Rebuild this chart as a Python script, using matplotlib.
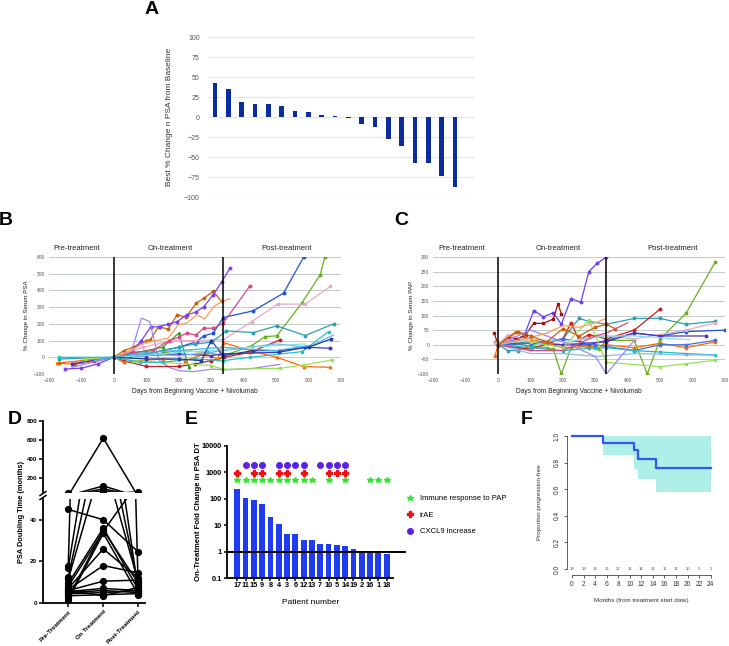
import numpy as np
import matplotlib
matplotlib.use("Agg")
import matplotlib.pyplot as plt
from matplotlib.lines import Line2D

plt.rcParams['font.family'] = ['Liberation Sans', 'DejaVu Sans']

# ---------------------------------------------------------
# DATA
# ---------------------------------------------------------
# A: best % change in PSA (waterfall)
best_change = [42, 35, 19, 16, 16, 14, 7, 6, 2, 1, -1, -9, -12, -28, -36, -57, -58, -74, -88]

# B: % change in serum PSA per patient (days, values)
psa_days = [
    [-170, -120, -60, 0, 30, 60, 100, 112, 138, 167, 195, 222, 253, 278, 306, 332],
    [-150, -100, -50, 0, 50, 85, 113, 141, 167, 196, 224, 253, 277, 306, 332, 358],
    [-130, 0, 55, 85, 110, 139, 170, 200, 244, 306, 337, 430, 512],
    [0, 50, 100, 150, 200, 255, 277, 306, 337, 430, 523, 585],
    [-100, 0, 100, 200, 290, 337, 425, 466, 502, 579, 636, 650],
    [0, 100, 150, 200, 230],
    [-90, 0, 90, 180, 250, 306, 337, 425, 505, 590, 667],
    [-60, 0, 60, 120, 170, 200, 224, 253, 277, 306, 337, 418],
    [-150, 0, 50, 100, 141, 167, 198, 224, 255, 280, 306, 332, 358],
    [-170, 0, 100, 200, 250, 300, 347, 430, 502, 590, 677],
    [0, 30, 100, 200, 250, 300, 340, 420, 512],
    [-175, 0, 30, 80, 150, 220, 280, 320, 337, 420, 502, 585, 667],
    [-90, 0, 60, 150, 300, 337, 512, 585, 672],
    [-170, 0, 80, 150, 250, 337, 420, 580, 662],
    [-130, 0, 100, 200, 300, 337, 510, 590, 667],
    [-60, 0, 100, 200, 300, 337, 500, 600, 677],
    [0, 100, 200, 300, 420, 590],
    [0, 100, 200, 270, 300, 337, 430, 510, 600, 670],
    [-40, 0, 100, 200, 337, 400, 500, 600],
]
psa_vals = [
    [-35, -40, -25, 0, 40, 60, 100, 104, 184, 168, 254, 240, 322, 354, 394, 334],
    [-70, -65, -40, 0, 30, 100, 180, 184, 198, 214, 254, 270, 302, 374, 450, 534],
    [-60, 0, 40, 234, 214, -16, -60, -80, -86, -70, -76, -66, -42],
    [0, 10, 20, 40, 60, 94, 128, 144, 238, 278, 384, 600],
    [-20, 0, 10, 40, 30, 8, 70, 124, 128, 324, 494, 600],
    [0, 40, 60, 144, -56],
    [-30, 0, 60, 100, 100, 104, 104, 214, 318, 318, 424],
    [-20, 0, 30, 40, 100, 120, 144, 134, 174, 174, 204, 424],
    [-40, 0, 40, 90, 104, 114, 194, 204, 254, 230, 300, 334, 350],
    [-10, 0, 20, 60, 80, 90, 158, 148, 188, 130, 200],
    [0, -20, -55, -55, -40, -20, 0, 30, 104],
    [-35, 0, -30, -20, -10, -20, 20, -10, 88, 40, 0, -56, -60],
    [-10, 0, -20, -30, -50, -72, -66, -46, -16],
    [0, 0, -30, -30, -10, -20, 0, 34, 154],
    [-40, 0, 10, 20, 10, 20, 30, 60, 54],
    [-20, 0, 20, 10, 30, 40, 80, 60, 134],
    [0, 10, 30, 40, 60, 80],
    [0, -10, -10, -20, 100, 10, 40, 40, 60, 110],
    [-10, 0, 30, 40, 60, 50, 40, 70],
]

# C: % change in serum PAP per patient
pap_days = [
    [0, 30, 60, 80, 110, 140, 170, 195, 225, 255, 280, 305, 334],
    [-12, 0, 30, 60, 85, 110, 140, 170, 185, 195],
    [-10, 0, 50, 100, 150, 170, 195, 225, 250, 280, 310, 334, 420, 460, 500, 580, 670],
    [0, 30, 60, 100, 150, 200, 250, 280, 334, 420, 500, 580, 670],
    [0, 100, 200, 225, 250, 280, 334, 420, 500],
    [0, 100, 200, 280, 334, 420, 500, 580, 700],
    [-10, 0, 30, 100, 200, 300, 334, 420, 580, 670],
    [0, 100, 200, 334, 420, 500, 640],
    [-10, 0, 55, 100, 200, 300, 334, 420, 500, 580, 670],
    [0, 100, 200, 300, 420, 500, 580, 670],
    [0, 100, 200, 300, 334, 420, 500, 580, 670],
    [0, 100, 200, 300, 430, 580, 670],
    [0, 100, 200, 280, 334, 500, 580, 670],
    [0, 100, 200, 334, 420, 590],
    [0, 100, 200, 300, 334, 420],
    [0, 100, 150, 200, 250, 300, 334],
    [0, 60, 100, 150, 200, 250, 300, 334, 360],
    [0, 100, 200, 300, 334, 400],
]
pap_vals = [
    [0, 10, 20, 30, 117, 95, 110, 70, 158, 145, 250, 278, 300],
    [40, 0, 25, 20, 35, 73, 73, 88, 140, 105],
    [10, 0, 5, -5, -10, -15, -100, -10, 0, -10, -15, 15, 15, -100, 20, 108, 283],
    [0, -20, -20, 0, 10, 20, 90, 80, 70, 90, 90, 70, 80],
    [0, -15, 20, 75, 15, 35, 20, 50, 122],
    [0, 10, 0, 0, 15, 40, 30, 45, 50],
    [5, 0, 35, 10, 0, 30, 30, 20, 50, 75],
    [0, 5, 0, 10, 40, 30, 30],
    [-40, 0, 45, 20, -10, -5, 0, -10, 5, -10, 10],
    [0, 5, 20, 0, -20, 0, 0, 15],
    [0, -10, -20, -10, -10, -20, -25, -30, -35],
    [0, -30, -30, -40, -30, -35, -35],
    [10, 10, -10, 85, -60, -75, -65, -53],
    [0, 20, 10, 30, 30, 17],
    [0, 50, 10, -40, -100, 15],
    [0, 25, 40, 65, 60, 75, 90],
    [0, 45, 30, 10, 55, 30, 60, 70, 55],
    [0, -20, -20, 30, 40, 75],
]

# D: PSA doubling time (months)
dt_groups = ["Pre-Treatment", "On Treatment", "Post-Treatment"]
dt_pre = [45, 18, 17, 12.5, 11.5, 9.5, 8, 7, 6.5, 6, 5.5, 5, 4.5, 3.5, 2.5, 1.5, 6]
dt_on = [40, 620, 120, 90, 70, 36, 34.5, 26, 18, 10.5, 7, 6, 5, 4, 35, 33.5, 3.5]
dt_post = [24.5, 5, 6, 8, 10, 6.5, 58, 12, 14.5, 11, 6, 5, 6, 4.5, 9.5, 4, 7.5]

# E: fold change in PSA DT
patients = ["17", "11", "15", "9", "8", "4", "3", "6", "12", "13", "7", "10", "5", "14", "19", "2", "16", "1", "18"]
fold_change = [230, 106, 92, 65, 20.5, 11.2, 4.7, 4.7, 2.9, 2.8, 2.05, 1.94, 1.83, 1.68, 1.26, 1.0, 0.97, 0.89, 0.84]
immune_idx = [0, 1, 2, 3, 4, 5, 6, 7, 8, 9, 11, 13, 16, 17, 18]
irae_idx = [0, 2, 3, 5, 6, 8, 11, 12, 13]
cxcl9_idx = [1, 2, 3, 5, 6, 7, 8, 10, 11, 12, 13]

# F: Kaplan-Meier progression-free
km_months = [0, 5.3, 10.7, 11.4, 14.5, 24]
km_surv = [1.0, 0.95, 0.895, 0.83, 0.762, 0.762]
ci_months = [5.3, 10.7, 11.4, 14.5, 24]
ci_lower = [0.857, 0.75, 0.674, 0.58, 0.58]
ci_upper = [1.0, 1.0, 1.0, 1.0, 1.0]
risk_months = [0, 2, 4, 6, 8, 10, 12, 14, 16, 18, 20, 22, 24]
risk_counts = [19, 19, 19, 16, 16, 15, 14, 12, 11, 11, 10, 5, 1]

# ---------------------------------------------------------
# STYLES
# ---------------------------------------------------------
psa_colors = ['#c8600a', '#7b3ff0', '#9a88f5', '#1f50e0', '#66b21e', '#3a9a2a', '#e8a8c8',
              '#d44a84', '#ff9a5a', '#2aa0b0', '#c41e2a', '#ff6a00', '#99e055', '#22c4c4',
              '#4434c4', '#6fb0f0', '#88e4e4', '#2040a0', '#46b4e6']
psa_markers = ['o', 'o', '', 'o', 'o', '^', 's', 'o', '', 'o', 'o', '^', 's', 's',
               'o', '', '', 'o', '']
pap_colors = ['#6a40f0', '#a01010', '#6ab020', '#2aa0b0', '#c42020', '#1f50e0', '#e8a8c8',
              '#5034b4', '#ff6a00', '#3a70e8', '#22b8c8', '#86baf2', '#99e055', '#88e4e4',
              '#9a88f5', '#ff9a5a', '#c8600a', '#d44a84']
pap_markers = ['o', 's', 'o', 'o', 'o', 'o', 's', 'o', 'o', 'o', 's', '', 's', '',
               '', '', 'o', '']

W, H = 729, 646
fig = plt.figure(figsize=(W / 100, H / 100), dpi=100)


def add_ax(l, t, r, b):
    return fig.add_axes([l / W, 1 - b / H, (r - l) / W, (b - t) / H])


def letter(x, y, s):
    fig.text(x / W, 1 - y / H, s, fontsize=14, fontweight='bold', ha='center', va='center')


# ---------------------------------------------------------
# A
# ---------------------------------------------------------
axA = add_ax(208, 37, 475, 197)
axA.bar(np.arange(len(best_change)), best_change, width=0.35, color='#0b2c9e')
axA.set_ylim(-100, 100)
axA.set_xlim(-0.53, 19.5)
axA.set_yticks(range(-100, 101, 25))
axA.set_xticks([])
axA.yaxis.grid(True, color='#e3e9e9', lw=0.9)
axA.set_axisbelow(True)
for s in axA.spines.values():
    s.set_visible(False)
axA.tick_params(axis='y', length=0, labelsize=5, labelcolor='#555555', pad=6)
axA.set_ylabel("Best % Change n PSA from Baseline", fontsize=6, color='#333333')
axA.yaxis.set_label_coords(-0.131, 0.5)
letter(152, 10, 'A')


# ---------------------------------------------------------
# B and C
# ---------------------------------------------------------
def spaghetti(ax, days, vals, colors, markers, ymax, split, ylabel, labx):
    ax.set_xlim(-200, 700)
    ax.set_ylim(-100, ymax)
    ax.set_xticks(range(-200, 701, 100))
    ax.set_yticks(range(-100, ymax + 1, 100 if ymax > 300 else 50))
    ax.yaxis.grid(True, color='#b8c2c2', lw=0.6)
    ax.set_axisbelow(True)
    for s in ax.spines.values():
        s.set_visible(False)
    ax.tick_params(length=0, labelsize=3.5, labelcolor='#555555', pad=3)
    for d, v, c, m in zip(days, vals, colors, markers):
        ax.plot(d, v, color=c, lw=0.9, marker=m if m else None, ms=1.8, clip_on=True)
    ax.axvline(0, color='black', lw=1.1)
    ax.axvline(split, color='black', lw=1.1)
    tr = ax.get_xaxis_transform()
    for x, t in zip(labx, ["Pre-treatment", "On-treatment", "Post-treatment"]):
        ax.text(x, 1.075, t, transform=tr, fontsize=5.5, ha='center', va='center', color='#222222')
    ax.set_xlabel("Days from Beginning Vaccine + Nivolumab", fontsize=4.8, color='#222222')
    ax.xaxis.set_label_coords(0.5, -0.12)
    ax.set_ylabel(ylabel, fontsize=4.5, color='#222222')


axB = add_ax(49, 257, 341, 374)
spaghetti(axB, psa_days, psa_vals, psa_colors, psa_markers, 600, 337,
          "% Change in Serum PSA", [-115, 175, 533])
axB.yaxis.set_label_coords(-0.068, 0.5)
letter(6, 221, 'B')

axC = add_ax(433.3, 257, 725, 374)
spaghetti(axC, pap_days, pap_vals, pap_colors, pap_markers, 300, 334,
          "% Change in Serum PAP", [-111, 185, 537])
axC.yaxis.set_label_coords(-0.066, 0.5)
letter(401, 221, 'C')

# ---------------------------------------------------------
# D (broken y axis)
# ---------------------------------------------------------
topD = add_ax(42.7, 421, 145, 492)
botD = add_ax(42.7, 499, 145, 603)
xs = [0, 1, 2]
for ax in (topD, botD):
    for a, b, c in zip(dt_pre, dt_on, dt_post):
        ax.plot(xs, [a, b, c], color='black', lw=1.1, marker='o', ms=4.2)
    ax.set_xlim(-0.73, 2.19)
    for s in ('top', 'right'):
        ax.spines[s].set_visible(False)
    ax.spines['left'].set_linewidth(1.3)
    ax.tick_params(axis='y', width=1.1, length=3, labelsize=4.5, pad=1)
topD.set_ylim(56, 800)
topD.set_yticks([200, 400, 600, 800])
topD.spines['bottom'].set_visible(False)
topD.set_xticks([])
botD.set_ylim(0, 50)
botD.set_yticks([0, 20, 40])
botD.spines['bottom'].set_linewidth(1.3)
botD.set_xticks(xs)
botD.set_xticklabels(dt_groups, rotation=45, ha='right', rotation_mode='anchor',
                     fontsize=4.5, fontweight='bold')
botD.tick_params(axis='x', width=1.1, length=3, pad=1.5)
for ax in (topD, botD):
    for lab in ax.get_yticklabels():
        lab.set_fontweight('bold')
# break marks
for yy in (493.5, 497.5):
    fig.add_artist(Line2D([40 / W, 46 / W], [1 - (yy + 2) / H, 1 - (yy - 2) / H],
                          color='black', lw=1.1))
fig.text(22 / W, 1 - 512 / H, "PSA Doubling Time (months)", rotation=90, fontsize=5.3,
         fontweight='bold', ha='center', va='center')
letter(15, 419, 'D')

# ---------------------------------------------------------
# E
# ---------------------------------------------------------
axE = add_ax(227.3, 445.7, 393, 578.3)
xe = np.arange(len(fold_change))
axE.set_yscale('log')
axE.bar(xe, np.array(fold_change) - 0.1, bottom=0.1, width=0.7, color='#1f3cf0')
axE.set_ylim(0.1, 10000)
axE.set_xlim(-1.2, 18.76)
axE.set_yticks([0.1, 1, 10, 100, 1000, 10000])
axE.set_yticklabels(["0.1", "1", "10", "100", "1000", "10000"])
axE.minorticks_off()
axE.set_xticks(xe)
axE.set_xticklabels(patients)
for s in ('top', 'right'):
    axE.spines[s].set_visible(False)
for s in ('left', 'bottom'):
    axE.spines[s].set_linewidth(1.3)
axE.tick_params(axis='both', width=1.1, length=2.5, labelsize=5.3, pad=1.5)
axE.tick_params(axis='x', length=2, pad=1)
for lab in axE.get_yticklabels() + axE.get_xticklabels():
    lab.set_fontweight('bold')
axE.axhline(1, xmin=0, xmax=1.072, color='black', lw=1.4, clip_on=False)
axE.plot(xe[immune_idx], [490] * len(immune_idx), ls='none', marker='*', ms=4, color='#33e633')
axE.plot(xe[irae_idx], [920] * len(irae_idx), ls='none', marker='P', ms=4, color='#ee1111')
axE.plot(xe[cxcl9_idx], [1880] * len(cxcl9_idx), ls='none', marker='o', ms=4, color='#5a22e6')
axE.set_ylabel("On-Treatment Fold Change in PSA DT", fontsize=5.6, fontweight='bold')
axE.yaxis.set_label_coords(-0.155, 0.5)
axE.set_xlabel("Patient number", fontsize=6)
axE.xaxis.set_label_coords(0.5, -0.156)
handles = [Line2D([], [], ls='none', marker='*', ms=4, color='#33e633'),
           Line2D([], [], ls='none', marker='P', ms=4, color='#ee1111'),
           Line2D([], [], ls='none', marker='o', ms=4, color='#5a22e6')]
fig.legend(handles, ["Immune response to PAP", "irAE", "CXCL9 increase"],
           loc='upper left', bbox_to_anchor=(407 / W, 1 - 495 / H), frameon=False,
           fontsize=5.5, handlelength=0.8, handletextpad=0.9, labelspacing=1.2,
           borderpad=0, borderaxespad=0)
letter(191, 419, 'E')

# ---------------------------------------------------------
# F
# ---------------------------------------------------------
axF = add_ax(566.7, 430, 715, 575)
axF.fill_between(ci_months, ci_lower, ci_upper, step='post', color='#aef0e8', lw=0)
axF.step(km_months, km_surv, where='post', color='#3355ff', lw=1.6)
axF.set_xlim(-0.92, 24.74)
axF.set_ylim(-0.045, 1.045)
axF.set_xticks(range(0, 25, 2))
axF.set_yticks([0, 0.2, 0.4, 0.6, 0.8, 1.0])
axF.set_yticklabels(["0.0", "0.2", "0.4", "0.6", "0.8", "1.0"], rotation=90, va='center')
for s in ('top', 'right'):
    axF.spines[s].set_visible(False)
axF.spines['left'].set_bounds(0, 1)
axF.spines['bottom'].set_bounds(0, 24)
for s in ('left', 'bottom'):
    axF.spines[s].set_linewidth(0.6)
    axF.spines[s].set_color('#444444')
axF.tick_params(width=0.6, length=2.5, labelsize=4.8, pad=2, color='#444444',
                labelcolor='#333333')
for m, n in zip(risk_months, risk_counts):
    axF.text(m, 0, str(n), fontsize=3, ha='center', va='center', color='#555555')
axF.set_ylabel("Proportion progression-free", fontsize=4.5, color='#333333')
axF.yaxis.set_label_coords(-0.169, 0.5)
axF.set_xlabel("Months (from treatment start date)", fontsize=4.5, color='#333333')
axF.xaxis.set_label_coords(0.506, -0.16)
letter(527, 419, 'F')

fig.savefig("out.png", dpi=100)
